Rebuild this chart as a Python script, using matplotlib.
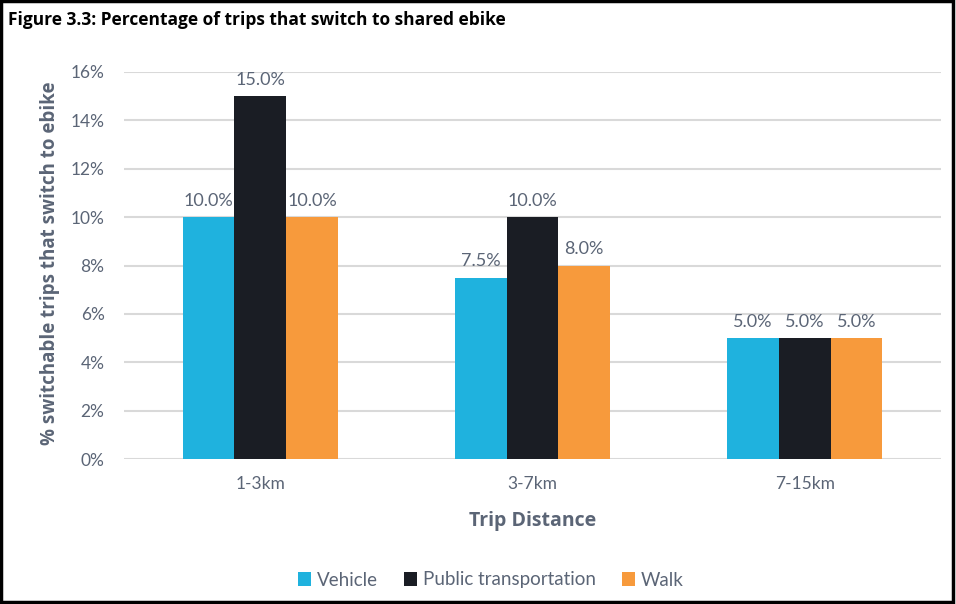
import matplotlib
matplotlib.use("Agg")
import matplotlib.pyplot as plt
import numpy as np
from matplotlib.patches import Rectangle

categories = ["1-3km", "3-7km", "7-15km"]
series_names = ["Vehicle", "Public transportation", "Walk"]
vehicle = [10.0, 7.5, 5.0]
public_transport = [15.0, 10.0, 5.0]
walk = [10.0, 8.0, 5.0]
yticks = [0, 2, 4, 6, 8, 10, 12, 14, 16]

colors = ["#1FB2DE", "#1A1D24", "#F79A3C"]
txt = "#5B6576"
fam = ["Lato", "DejaVu Sans"]

fig = plt.figure(figsize=(9.56, 6.04), dpi=100)
ax = fig.add_axes([124/956, 1-459/604, (941-124)/956, (459-72)/604])

x = np.arange(len(categories))
w = 0.19
for i, (vals, name) in enumerate(zip([vehicle, public_transport, walk], series_names)):
    pos = x + (i - 1) * w
    ax.bar(pos, vals, width=w, color=colors[i], label=name, zorder=3)
    for p, v in zip(pos, vals):
        ax.text(p, v + 0.35, f"{v:.1f}%", ha="center", va="bottom",
                fontsize=13, color=txt, family=fam)

ax.set_xlim(-0.5, 2.5)
ax.set_ylim(0, 16)
ax.set_yticks(yticks)
ax.set_yticklabels([f"{t}%" for t in yticks], fontsize=12.5, color=txt, family=fam)
ax.set_xticks(x)
ax.set_xticklabels(categories, fontsize=12.5, color=txt, family=fam)
ax.tick_params(length=0)
ax.tick_params(axis="y", pad=14)
ax.tick_params(axis="x", pad=12)
ax.grid(axis="y", color="#D9D9D9", lw=1.5, zorder=0)
for s in ax.spines.values():
    s.set_visible(False)

ax.set_ylabel("% switchable trips that switch to ebike", fontsize=13.5, fontweight="bold",
              color=txt, family=["Open Sans", "DejaVu Sans"])
ax.set_xlabel("Trip Distance", fontsize=14, fontweight="bold", color=txt,
              family=["Open Sans", "DejaVu Sans"], labelpad=14)
ax.yaxis.set_label_coords((50 - 124) / 817, 0.505, transform=ax.transAxes)
ax.yaxis.label.set_va("center")

fig.text(8/956, 1-20/604, "Figure 3.3: Percentage of trips that switch to shared ebike",
         fontsize=12.5, fontweight="bold", color="black", va="center", ha="left",
         family=["Open Sans", "DejaVu Sans"])

leg = fig.legend(loc="center", bbox_to_anchor=(491/956, 1-580/604), ncol=3, frameon=False,
                 prop={"family": "Lato", "size": 13.5}, handlelength=0.7, handleheight=0.7,
                 handletextpad=0.3, columnspacing=1.4)
for t in leg.get_texts():
    t.set_color(txt)

fig.add_artist(Rectangle((0.001, 0.003), 0.996, 0.995, transform=fig.transFigure,
                         fill=False, edgecolor="black", lw=2.5))

fig.savefig("out.png", dpi=100)
